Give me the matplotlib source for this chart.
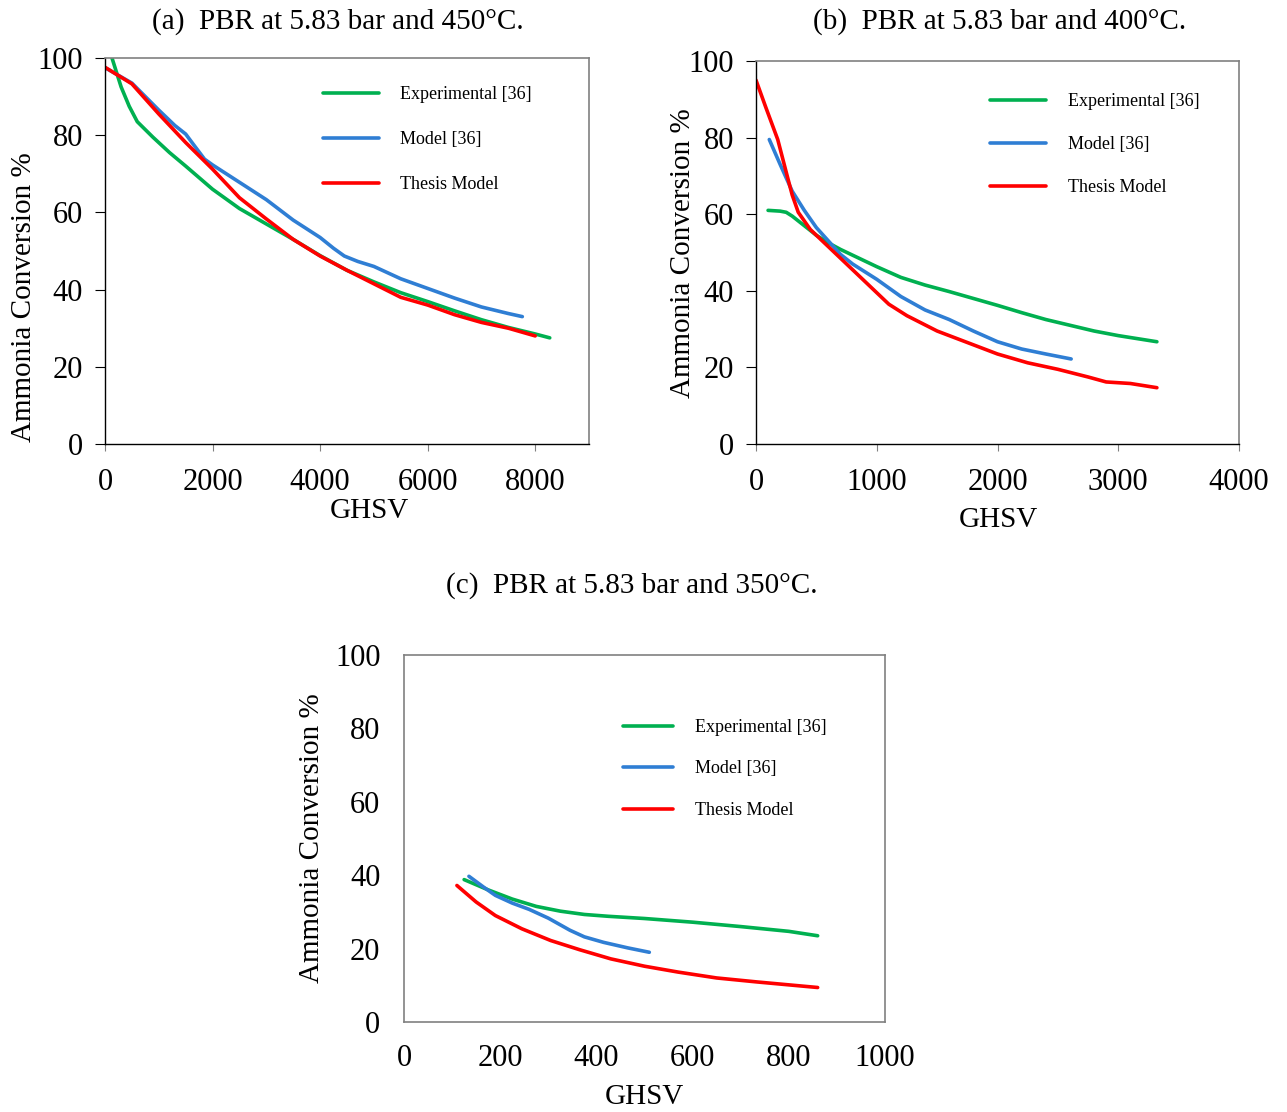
import matplotlib
matplotlib.use('Agg')
import matplotlib.pyplot as plt

plt.rcParams['font.family'] = ['Liberation Serif', 'DejaVu Serif']

COLORS = {'exp': '#00B050', 'model': '#2F7ED4', 'thesis': '#FF0000'}
LABELS = ['Experimental [36]', 'Model [36]', 'Thesis Model']

# (a) 450°C
a_exp_x = [130, 300, 450, 600, 890, 1200, 1500, 2000, 2500, 3000, 3500, 4000, 4500, 5000, 5500,
           6000, 6500, 7000, 7500, 8000, 8270]
a_exp_y = [100, 92.5, 87.5, 83.5, 79.5, 75.5, 72, 66, 61, 57, 53, 48.8, 45, 42, 39.2,
           36.9, 34.5, 32.2, 30.2, 28.5, 27.5]
a_mod_x = [0, 500, 1000, 1300, 1500, 1650, 1850, 2000, 2500, 3000, 3500, 4000, 4250, 4450,
           4700, 5000, 5500, 6000, 6500, 7000, 7500, 7760]
a_mod_y = [97.5, 93.5, 86.5, 82.5, 80.3, 77.5, 73.8, 72.3, 67.8, 63.3, 58, 53.5, 50.7, 48.7,
           47.3, 46, 42.8, 40.3, 37.8, 35.5, 33.8, 33]
a_the_x = [0, 500, 1000, 1500, 2000, 2500, 3000, 3500, 4000, 4500, 5000, 5500, 6000, 6500,
           7000, 7500, 8000]
a_the_y = [97.6, 93.3, 85.5, 78.1, 71.2, 63.8, 58.3, 53, 48.7, 45, 41.5, 38, 36, 33.5,
           31.5, 30, 28]

# (b) 400°C
b_exp_x = [100, 200, 250, 300, 400, 500, 600, 700, 800, 1000, 1200, 1400, 1600, 1800, 2000,
           2200, 2400, 2600, 2800, 3000, 3320]
b_exp_y = [61, 60.8, 60.5, 59.5, 57, 54.5, 52.5, 50.8, 49.3, 46.3, 43.5, 41.5, 39.8, 38, 36.2,
           34.3, 32.5, 31, 29.5, 28.3, 26.7]
b_mod_x = [110, 200, 300, 400, 500, 600, 700, 800, 1000, 1200, 1400, 1600, 1800, 2000, 2200,
           2400, 2610]
b_mod_y = [79.5, 73, 66, 61, 56.5, 53, 49.5, 47, 43, 38.5, 35, 32.5, 29.5, 26.7, 24.8,
           23.5, 22.2]
b_the_x = [0, 80, 180, 250, 300, 350, 450, 600, 750, 900, 1000, 1100, 1250, 1500, 1750, 2000,
           2250, 2500, 2750, 2900, 3100, 3320]
b_the_y = [95, 88, 79.5, 71, 65, 60.5, 56, 51.5, 47, 42.5, 39.5, 36.5, 33.5, 29.5, 26.5, 23.5,
           21.2, 19.5, 17.5, 16.2, 15.8, 14.7]

# (c) 350°C
c_exp_x = [125, 175, 225, 275, 325, 375, 425, 500, 600, 700, 800, 860]
c_exp_y = [38.8, 36, 33.5, 31.5, 30.2, 29.3, 28.8, 28.2, 27.2, 26, 24.7, 23.5]
c_mod_x = [135, 165, 190, 225, 260, 300, 345, 375, 415, 465, 510]
c_mod_y = [39.7, 36.8, 34.5, 32.4, 30.7, 28.3, 25, 23.2, 21.7, 20.2, 19]
c_the_x = [110, 150, 190, 245, 305, 365, 430, 500, 570, 650, 735, 860]
c_the_y = [37.2, 32.7, 29, 25.4, 22.2, 19.7, 17.2, 15.2, 13.6, 12, 10.9, 9.4]

y_ticks = [0, 20, 40, 60, 80, 100]

W, H = 1287, 1112
fig = plt.figure(figsize=(W / 100, H / 100), dpi=100)
fig.patch.set_facecolor('white')


def px_axes(l, t, r, b):
    return fig.add_axes([l / W, 1 - b / H, (r - l) / W, (b - t) / H])


def draw_panel(ax, series, xmax, xstep, ticks_on, leg_anchor, spacing, hlen):
    for (xs, ys), key, lab in zip(series, ['exp', 'model', 'thesis'], LABELS):
        ax.plot(xs, ys, color=COLORS[key], lw=2.6, label=lab,
                solid_capstyle='round', solid_joinstyle='round')
    ax.set_xlim(0, xmax)
    ax.set_ylim(0, 100)
    ax.set_xticks(list(range(0, xmax + 1, xstep)))
    ax.set_yticks(y_ticks)
    ax.tick_params(labelsize=22)
    if ticks_on:
        for s in ['left', 'bottom']:
            ax.spines[s].set_color('black')
            ax.spines[s].set_linewidth(1.0)
        for s in ['top', 'right']:
            ax.spines[s].set_color('#808080')
            ax.spines[s].set_linewidth(1.2)
        ax.tick_params(axis='y', direction='out', length=7, color='black', pad=9)
        ax.tick_params(axis='x', direction='out', length=5, color='#808080', pad=12)
    else:
        for s in ax.spines.values():
            s.set_color('#808080')
            s.set_linewidth(1.2)
        ax.tick_params(axis='x', length=0, pad=16)
        ax.tick_params(axis='y', length=0, pad=17)
    ax.legend(loc='upper left', bbox_to_anchor=leg_anchor, frameon=False, fontsize=13,
              handlelength=hlen, handletextpad=1.2, labelspacing=spacing, borderaxespad=0)


ax_a = px_axes(105, 58, 589, 444)
draw_panel(ax_a, [(a_exp_x, a_exp_y), (a_mod_x, a_mod_y), (a_the_x, a_the_y)],
           9000, 2000, True, (0.435, 0.945), 1.55, 3.1)
ax_a.set_xticks([0, 2000, 4000, 6000, 8000])

ax_b = px_axes(756, 61, 1239, 444)
draw_panel(ax_b, [(b_exp_x, b_exp_y), (b_mod_x, b_mod_y), (b_the_x, b_the_y)],
           4000, 1000, True, (0.47, 0.935), 1.45, 3.1)

ax_c = px_axes(404, 655, 885, 1022)
draw_panel(ax_c, [(c_exp_x, c_exp_y), (c_mod_x, c_mod_y), (c_the_x, c_the_y)],
           1000, 200, False, (0.44, 0.845), 1.35, 2.8)

# titles
fig.text(338 / W, 1 - 22 / H, '(a)  PBR at 5.83 bar and 450\u00b0C.', ha='center', va='center', fontsize=21)
fig.text(1000 / W, 1 - 22 / H, '(b)  PBR at 5.83 bar and 400\u00b0C.', ha='center', va='center', fontsize=21)
fig.text(632 / W, 1 - 586 / H, '(c)  PBR at 5.83 bar and 350\u00b0C.', ha='center', va='center', fontsize=21)

# axis labels
fig.text(369 / W, 1 - 511 / H, 'GHSV', ha='center', va='center', fontsize=21)
fig.text(998 / W, 1 - 520 / H, 'GHSV', ha='center', va='center', fontsize=21)
fig.text(644 / W, 1 - 1097 / H, 'GHSV', ha='center', va='center', fontsize=21)
fig.text(24 / W, 1 - 297 / H, 'Ammonia Conversion %', ha='center', va='center', rotation=90, fontsize=21)
fig.text(683 / W, 1 - 253 / H, 'Ammonia Conversion %', ha='center', va='center', rotation=90, fontsize=21)
fig.text(312 / W, 1 - 838 / H, 'Ammonia Conversion %', ha='center', va='center', rotation=90, fontsize=21)

fig.savefig('out.png', dpi=100)
